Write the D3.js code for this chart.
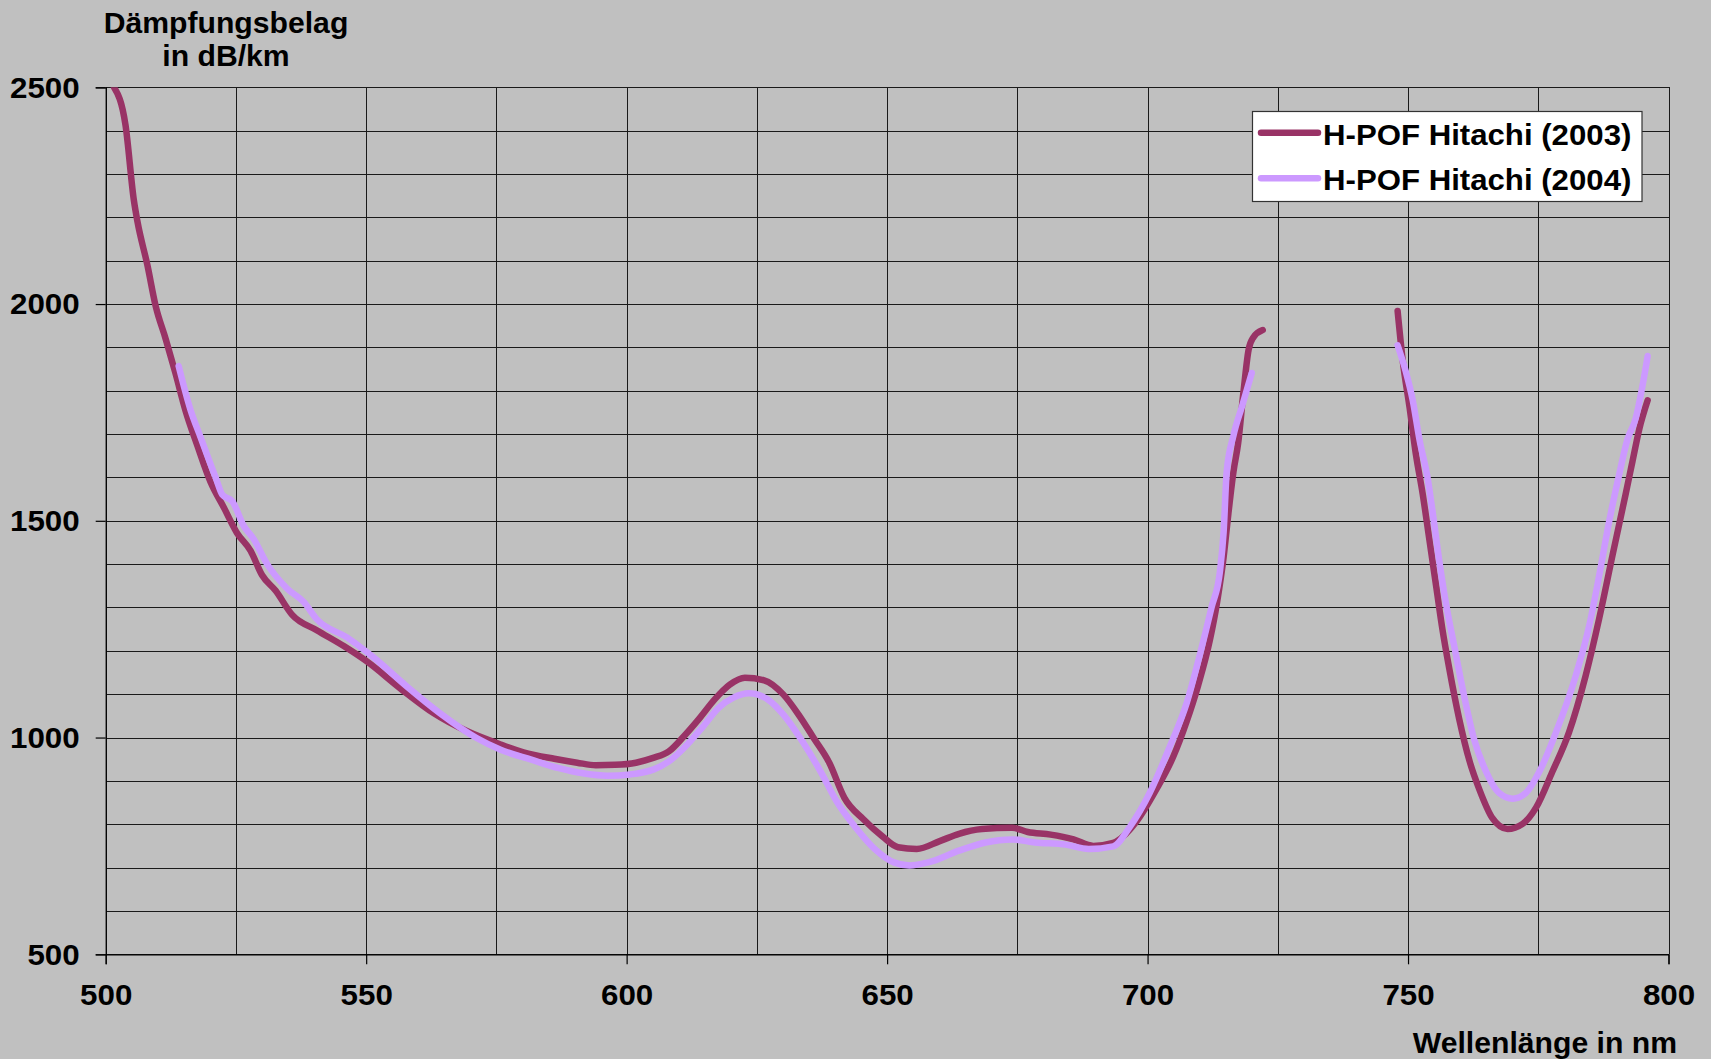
<!DOCTYPE html>
<html>
<head>
<meta charset="utf-8">
<script src="https://cdn.jsdelivr.net/npm/d3@7"></script>
<style>
  html, body { margin: 0; padding: 0; background: #C0C0C0; }
  svg { display: block; }
  text { font-family: "Liberation Sans", Arial, sans-serif; font-weight: bold; fill: #000; }
</style>
</head>
<body>
<svg id="chart" width="1711" height="1059"></svg>
<script>
// ---- Data ----
const seriesNames = ["H-POF Hitachi (2003)", "H-POF Hitachi (2004)"];
const seriesColors = ["#993366", "#CC99FF"];

// null marks the gap in the measurement (no data between ~722 and ~748 nm)
const wavelength2003 = [
  501.6, 503.8, 505.4, 506.1, 508, 509.6, 511.5, 513.4, 515.3, 517.6, 520.1, 522.7, 525.2, 527.8,
  530, 532.6, 535.8, 540.6, 545.7, 550.2, 556.6, 563, 569.3, 575.8, 580.2, 586.1, 590.5, 594.1,
  597.8, 601.8, 605.1, 608.1, 611, 613.9, 616.9, 619.8, 622.7, 626.4, 630.1, 633, 635.9, 638.9,
  641.8, 645.5, 649.1, 652.1, 655.7, 660.1, 663.8, 668.2, 674, 677, 681.4, 685.8, 689.6, 693.4,
  697.9, 701.7, 704.9, 707.5, 709.7, 712, 713.3, 714.6, 715.5, 716.5, 717.4, 718.4, 719.4, 720.3,
  722.1, 735,
  748, 749, 750.3, 751.5, 752.8, 754.1, 755.4, 756.6, 757.9, 759.8, 761.8, 763.7, 766.2, 769.1,
  772, 774.6, 777.7, 780.9, 784.1, 786.7, 789.3, 791.8, 793.1, 794.4, 796
];
const loss2003 = [
  2500, 2413, 2240, 2190, 2090, 1995, 1920, 1840, 1755, 1673, 1590, 1530, 1472, 1431,
  1375, 1339, 1283, 1247, 1211, 1175, 1113, 1056, 1015, 984, 966, 951, 942, 936,
  937, 942, 953, 968, 1003, 1043, 1088, 1122, 1138, 1132, 1099, 1053, 999, 942,
  861, 811, 772, 747, 743, 761, 778, 789, 792, 782, 776, 765, 750, 757,
  807, 881, 955, 1037, 1120, 1227, 1309, 1416, 1515, 1614, 1680, 1796, 1895, 1923,
  1940, null,
  1984, 1868, 1761, 1654, 1563, 1456, 1349, 1250, 1160, 1044, 946, 880, 814, 789,
  801, 839, 921, 1012, 1143, 1275, 1423, 1563, 1638, 1712, 1778
];

const wavelength2004 = [
  514, 516.3, 518.2, 521.1, 522.4, 524.3, 526.5, 528.4, 531, 534.8, 538, 540.6, 546.3, 551.4,
  557.8, 564.2, 571.2, 575.8, 581.7, 586.8, 591.9, 596.3, 600.7, 605.1, 608.1, 611, 614.7, 617.6,
  620.5, 623.5, 627.1, 630.1, 633.7, 637.4, 640.3, 644, 647.7, 651.3, 654.3, 657.9, 663.8, 668.9,
  674, 678.4, 684.3, 688.7, 693.4, 696.6, 700.4, 704.3, 707.5, 710.1, 712.3, 713.9, 714.6, 715.2,
  716.5, 718.1, 720, 735,
  748, 749.6, 750.9, 752.2, 753.8, 754.7, 756, 757.3, 758.9, 760.8, 762.7, 765, 767.5, 770.1,
  772.6, 775.2, 778.4, 782.2, 784.8, 786.7, 788.6, 790.5, 792.1, 793.7, 795, 796
];
const loss2004 = [
  1857, 1755, 1693, 1600, 1560, 1545, 1488, 1458, 1400, 1344, 1313, 1272, 1231, 1185,
  1118, 1056, 999, 972, 949, 930, 917, 912, 915, 926, 945, 976, 1026, 1068,
  1092, 1102, 1088, 1053, 992, 918, 853, 792, 742, 712, 705, 712, 739, 758,
  765, 758, 753, 743, 749, 794, 872, 980, 1079, 1194, 1301, 1384, 1474, 1614,
  1697, 1763, 1841, null,
  1905, 1843, 1778, 1687, 1596, 1522, 1407, 1308, 1209, 1094, 995, 921, 872, 859,
  872, 921, 1012, 1143, 1259, 1374, 1498, 1605, 1687, 1736, 1811, 1880
];

const xTickLabels = [500, 550, 600, 650, 700, 750, 800];
const yTickLabels = [500, 1000, 1500, 2000, 2500];
const xGridValues = [500, 525, 550, 575, 600, 625, 650, 675, 700, 725, 750, 775, 800];
const yGridValues = [500, 600, 700, 800, 900, 1000, 1100, 1200, 1300, 1400, 1500, 1600, 1700, 1800, 1900, 2000, 2100, 2200, 2300, 2400, 2500];

const yTitleLines = ["Dämpfungsbelag", "in dB/km"];
const xTitle = "Wellenlänge in nm";

// ---- Layout ----
const svg = d3.select("#chart");
const plot = { left: 105.7, right: 1668.5, top: 87.3, bottom: 954.3 };

const x = d3.scaleLinear().domain([500, 800]).range([plot.left, plot.right]);
const y = d3.scaleLinear().domain([500, 2500]).range([plot.bottom, plot.top]);

// widen glyphs slightly to match the reference's wide bold face
function widen(sel, factor) {
  sel.each(function () {
    const len = this.getComputedTextLength();
    d3.select(this).attr("textLength", len * factor).attr("lengthAdjust", "spacingAndGlyphs");
  });
}

svg.append("rect").attr("x", 0).attr("y", 0).attr("width", 1711).attr("height", 1059).attr("fill", "#C0C0C0");

// gridlines
const grid = svg.append("g").attr("stroke", "#1a1a1a").attr("stroke-width", 1).attr("shape-rendering", "crispEdges");
grid.selectAll("line.v").data(xGridValues).join("line")
  .attr("x1", d => Math.round(x(d)) + 0.5).attr("x2", d => Math.round(x(d)) + 0.5)
  .attr("y1", plot.top).attr("y2", plot.bottom);
grid.selectAll("line.h").data(yGridValues).join("line")
  .attr("y1", d => Math.round(y(d)) + 0.5).attr("y2", d => Math.round(y(d)) + 0.5)
  .attr("x1", plot.left).attr("x2", plot.right);

// axes
const xAxis = d3.axisBottom(x).tickValues(xTickLabels).tickSize(10).tickPadding(20).tickFormat(d3.format("d"));
const yAxis = d3.axisLeft(y).tickValues(yTickLabels).tickSize(10).tickPadding(16).tickFormat(d3.format("d"));

const gx = svg.append("g").attr("transform", `translate(0,${plot.bottom})`).call(xAxis);
const gy = svg.append("g").attr("transform", `translate(${plot.left},0)`).call(yAxis);
[gx, gy].forEach(g => {
  g.select(".domain").attr("stroke", "#000").attr("stroke-width", 1.2);
  g.selectAll(".tick line").attr("stroke", "#000").attr("stroke-width", 1.2);
  g.selectAll(".tick text").style("font-family", '"Liberation Sans", Arial, sans-serif')
    .style("font-weight", "bold").style("font-size", "29px").attr("fill", "#000");
  widen(g.selectAll(".tick text"), 1.08);
});
gx.selectAll(".tick text").attr("dy", "0.71em");
gy.selectAll(".tick text").attr("dy", "0.34em");

// titles
const t1 = svg.append("text").attr("x", 226).attr("y", 33).attr("text-anchor", "middle")
  .style("font-size", "29px").text(yTitleLines[0]);
const t2 = svg.append("text").attr("x", 226).attr("y", 66).attr("text-anchor", "middle")
  .style("font-size", "29px").text(yTitleLines[1]);
const t3 = svg.append("text").attr("x", 1677).attr("y", 1053).attr("text-anchor", "end")
  .style("font-size", "29px").text(xTitle);
[t1, t2, t3].forEach(t => widen(t, 1.04));

// clip
svg.append("clipPath").attr("id", "plotclip").append("rect")
  .attr("x", plot.left).attr("y", plot.top)
  .attr("width", plot.right - plot.left).attr("height", plot.bottom - plot.top);

const series = [
  { name: seriesNames[0], color: seriesColors[0], pts: wavelength2003.map((w, i) => ({ w, v: loss2003[i] })) },
  { name: seriesNames[1], color: seriesColors[1], pts: wavelength2004.map((w, i) => ({ w, v: loss2004[i] })) }
];

const line = d3.line()
  .defined(d => d.v !== null)
  .x(d => x(d.w)).y(d => y(d.v))
  .curve(d3.curveMonotoneX);

const lines = svg.append("g").attr("clip-path", "url(#plotclip)");
lines.selectAll("path").data(series).join("path")
  .attr("d", d => line(d.pts))
  .attr("fill", "none")
  .attr("stroke", d => d.color)
  .attr("stroke-width", 6.5)
  .attr("stroke-linecap", "round")
  .attr("stroke-linejoin", "round");

// legend
const lg = svg.append("g");
lg.append("rect").attr("x", 1252.5).attr("y", 111.5).attr("width", 389.5).attr("height", 90)
  .attr("fill", "#fff").attr("stroke", "#333").attr("stroke-width", 1.2);
series.forEach((s, i) => {
  const cy = 132.7 + i * 45.6;
  lg.append("line").attr("x1", 1261).attr("x2", 1318).attr("y1", cy).attr("y2", cy)
    .attr("stroke", s.color).attr("stroke-width", 6.5).attr("stroke-linecap", "round");
  const t = lg.append("text").attr("x", 1323).attr("y", cy + 12).style("font-size", "29px").text(s.name);
  widen(t, 1.075);
});
</script>
</body>
</html>
